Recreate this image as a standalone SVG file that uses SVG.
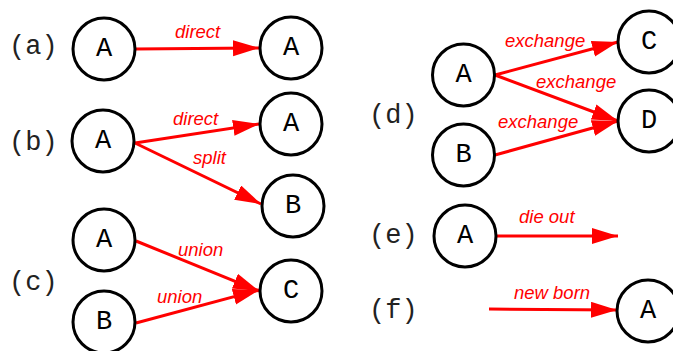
<svg xmlns="http://www.w3.org/2000/svg" width="673" height="351" viewBox="0 0 673 351">
  <style>
    .node circle { fill: #fff; stroke: #000; stroke-width: 3; }
    .node text { font-family: "Courier New", Courier, "Nimbus Mono PS", FreeMono, "Liberation Mono", monospace; font-size: 27px; text-anchor: middle; dominant-baseline: central; fill: #000; }
    .tag { font-family: "Courier New", Courier, "Nimbus Mono PS", FreeMono, "Liberation Mono", monospace; font-size: 27px; fill: #222; dominant-baseline: central; }
    .edge { stroke: #ff0000; stroke-width: 3; fill: none; marker-end: url(#head); }
    .lbl { font-family: "Liberation Sans", Arial, sans-serif; font-style: italic; font-size: 18.5px; fill: #ff0000; }
  </style>
  <defs>
    <marker id="head" markerUnits="userSpaceOnUse" markerWidth="27" markerHeight="18" refX="26" refY="8" orient="auto" viewBox="0 0 27 18">
      <path d="M0,0 L26,8 L0,16 Z" fill="#ff0000"/>
    </marker>
  </defs>

  <!-- case labels -->
  <g id="tags">
    <text class="tag" x="9" y="47">(a)</text>
    <text class="tag" x="9" y="143">(b)</text>
    <text class="tag" x="9" y="283">(c)</text>
    <text class="tag" x="369" y="116">(d)</text>
    <text class="tag" x="369" y="236">(e)</text>
    <text class="tag" x="369" y="311">(f)</text>
  </g>

  <!-- connectors -->
  <g id="connectors">
    <line class="edge" x1="135" y1="49" x2="259" y2="48"/>
    <line class="edge" x1="135" y1="143" x2="259" y2="124"/>
    <line class="edge" x1="135" y1="143" x2="261" y2="204"/>
    <line class="edge" x1="136" y1="241" x2="259" y2="291"/>
    <line class="edge" x1="136" y1="323" x2="259" y2="290"/>
    <line class="edge" x1="495" y1="75" x2="618" y2="42"/>
    <line class="edge" x1="495" y1="75" x2="618" y2="121"/>
    <line class="edge" x1="495" y1="155" x2="618" y2="121"/>
    <line class="edge" x1="497" y1="236" x2="618" y2="236"/>
    <line class="edge" x1="489" y1="309" x2="617" y2="310"/>
  </g>

  <!-- connector labels -->
  <g id="edge-labels">
    <text class="lbl" x="175" y="38">direct</text>
    <text class="lbl" x="173" y="125">direct</text>
    <text class="lbl" x="193" y="164">split</text>
    <text class="lbl" x="178" y="256">union</text>
    <text class="lbl" x="157" y="303">union</text>
    <text class="lbl" x="505" y="47">exchange</text>
    <text class="lbl" x="536" y="88">exchange</text>
    <text class="lbl" x="498" y="128">exchange</text>
    <text class="lbl" x="519" y="223">die out</text>
    <text class="lbl" x="514" y="299">new born</text>
  </g>

  <!-- nodes -->
  <g id="a-src" class="node"><circle cx="104" cy="49" r="31"/><text x="104" y="49">A</text></g>
  <g id="a-dst" class="node"><circle cx="291" cy="48" r="31"/><text x="291" y="48">A</text></g>

  <g id="b-src" class="node"><circle cx="103" cy="141" r="31"/><text x="103" y="141">A</text></g>
  <g id="b-dst-a" class="node"><circle cx="291" cy="124" r="31"/><text x="291" y="124">A</text></g>
  <g id="b-dst-b" class="node"><circle cx="293" cy="206" r="31"/><text x="293" y="206">B</text></g>

  <g id="c-src-a" class="node"><circle cx="104" cy="240" r="31"/><text x="104" y="240">A</text></g>
  <g id="c-src-b" class="node"><circle cx="104" cy="322" r="31"/><text x="104" y="322">B</text></g>
  <g id="c-dst" class="node"><circle cx="291" cy="291" r="31"/><text x="291" y="291">C</text></g>

  <g id="d-src-a" class="node"><circle cx="463.5" cy="75" r="31"/><text x="463.5" y="75">A</text></g>
  <g id="d-src-b" class="node"><circle cx="463.5" cy="155" r="31"/><text x="463.5" y="155">B</text></g>
  <g id="d-dst-c" class="node"><circle cx="649" cy="42" r="31"/><text x="649" y="42">C</text></g>
  <g id="d-dst-d" class="node"><circle cx="649" cy="121" r="31"/><text x="649" y="121">D</text></g>

  <g id="e-src" class="node"><circle cx="465" cy="236" r="31"/><text x="465" y="236">A</text></g>

  <g id="f-dst" class="node"><circle cx="648" cy="311" r="31"/><text x="648" y="311">A</text></g>
</svg>
